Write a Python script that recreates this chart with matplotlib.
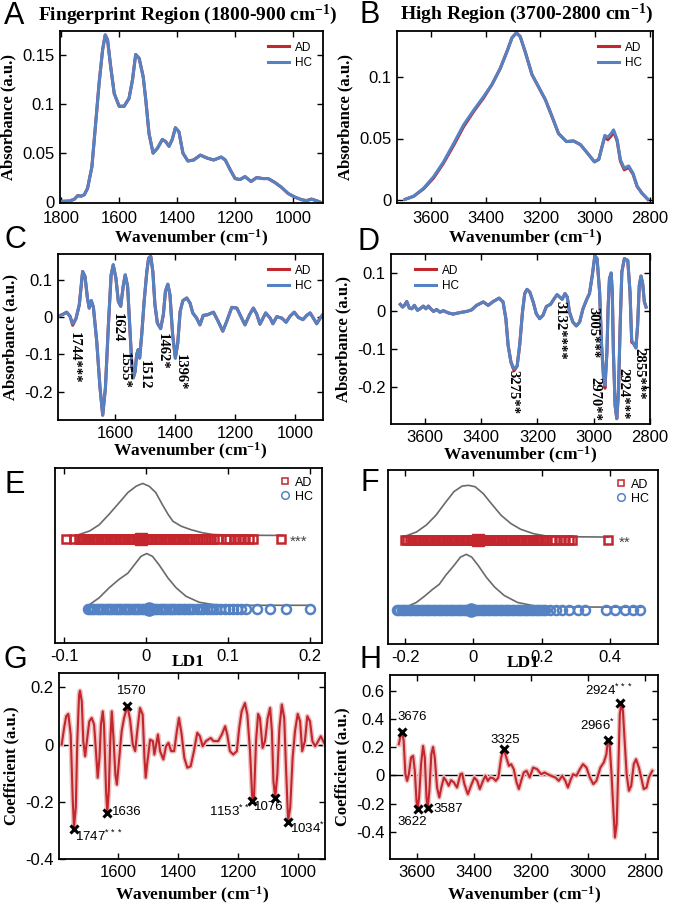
import numpy as np
import matplotlib
matplotlib.use("Agg")
import matplotlib.pyplot as plt
from matplotlib.lines import Line2D

plt.rcParams['font.family'] = ['Liberation Sans', 'DejaVu Sans']
plt.rcParams['axes.unicode_minus'] = False
plt.rcParams['mathtext.default'] = 'regular'
SERIF = ['Liberation Serif', 'DejaVu Serif']

RED = '#c3262d'
BLUE = '#5582c2'
PINK = '#ecc4c4'
GREY = '#6a6a6a'

# ---------------- A: fingerprint absorbance ----------------
wn_a = [1800, 1771, 1754, 1743, 1731, 1720, 1709, 1694, 1680, 1669, 1657, 1648, 1640,
        1629, 1617, 1600, 1583, 1566, 1554, 1543, 1531, 1517, 1508, 1497, 1483, 1468,
        1451, 1440, 1428, 1417, 1406, 1394, 1380, 1363, 1343, 1320, 1297, 1274, 1248,
        1234, 1217, 1200, 1183, 1166, 1145, 1126, 1105, 1086, 1063, 1040, 1017, 994,
        971, 954, 937, 920, 908]
hc_a = [0.0007, 0.001, 0.003, 0.0065, 0.006, 0.0075, 0.014, 0.036, 0.084, 0.122, 0.156,
        0.171, 0.166, 0.138, 0.111, 0.098, 0.098, 0.106, 0.125, 0.151, 0.147, 0.128,
        0.104, 0.070, 0.050, 0.055, 0.064, 0.062, 0.057, 0.064, 0.076, 0.072, 0.050,
        0.042, 0.043, 0.048, 0.045, 0.043, 0.046, 0.043, 0.033, 0.024, 0.023, 0.026,
        0.021, 0.025, 0.024, 0.024, 0.020, 0.015, 0.0087, 0.005, 0.0024, 0.0014, 0.003,
        0.0014, 0.0]
ad_a = list(hc_a)

# ---------------- B: high region absorbance ----------------
wn_b = [3694, 3663, 3627, 3590, 3554, 3517, 3481, 3444, 3408, 3377, 3347, 3322, 3304,
        3288, 3274, 3255, 3231, 3207, 3182, 3158, 3134, 3105, 3079, 3054, 3028, 3003,
        2987, 2975, 2965, 2954, 2942, 2933, 2920, 2908, 2894, 2878, 2862, 2847, 2829,
        2808]
hc_b = [0.0005, 0.003, 0.0095, 0.019, 0.031, 0.046, 0.061, 0.073, 0.084, 0.094, 0.107,
        0.121, 0.132, 0.136, 0.133, 0.120, 0.102, 0.092, 0.0815, 0.068, 0.054, 0.0475,
        0.048, 0.045, 0.038, 0.031, 0.033, 0.0435, 0.0525, 0.051, 0.054, 0.057, 0.049,
        0.0326, 0.0258, 0.0277, 0.0217, 0.011, 0.0054, 0.0005]
ad_b = [0.0005, 0.003, 0.009, 0.018, 0.030, 0.0445, 0.0595, 0.072, 0.083, 0.094, 0.107,
        0.121, 0.132, 0.136, 0.133, 0.120, 0.102, 0.092, 0.0815, 0.068, 0.054, 0.0475,
        0.048, 0.045, 0.038, 0.031, 0.033, 0.0435, 0.0515, 0.049, 0.052, 0.0555, 0.048,
        0.0315, 0.0245, 0.0265, 0.021, 0.011, 0.0054, 0.0005]

# ---------------- C: fingerprint 2nd derivative ----------------
wn_c = [1789, 1772, 1761, 1750, 1741, 1730, 1719, 1708, 1700, 1692, 1686, 1679, 1672,
        1661, 1650, 1641, 1632, 1622, 1613, 1606, 1597, 1589, 1581, 1572, 1566, 1558,
        1550, 1544, 1539, 1533, 1528, 1523, 1518, 1511, 1503, 1494, 1488, 1481, 1474,
        1467, 1459, 1448, 1439, 1432, 1424, 1417, 1408, 1399, 1391, 1383, 1374, 1361,
        1350, 1341, 1328, 1317, 1306, 1292, 1272, 1256, 1241, 1228, 1211, 1194, 1181,
        1167, 1152, 1139, 1128, 1117, 1098, 1083, 1074, 1061, 1044, 1030, 1017, 1003,
        989, 974, 961, 950, 939, 928, 914, 908]
hc_c = [0.002, 0.008, 0.013, 0.002, -0.018, -0.004, 0.033, 0.122, 0.109, 0.051, 0.024,
        0.044, 0.026, -0.065, -0.19, -0.263, -0.19, -0.02, 0.113, 0.14, 0.104, 0.042,
        0.029, 0.087, 0.113, 0.082, -0.038, -0.128, -0.163, -0.146, -0.101, -0.0875,
        -0.11, -0.047, 0.042, 0.122, 0.158, 0.163, 0.122, 0.033, -0.016, -0.031, 0.006,
        0.069, 0.088, 0.06, -0.047, -0.11, -0.07, 0.015, 0.044, 0.051, 0.0375, 0.011,
        -0.003, -0.021, 0.0045, 0.006, 0.013, -0.012, -0.038, -0.012, 0.026, 0.024,
        0.002, -0.021, 0.006, 0.024, 0.008, -0.019, 0.011, -0.003, -0.018, 0.001,
        -0.003, -0.014, 0.002, 0.013, -0.001, -0.007, 0.0045, 0.011, -0.003, -0.018,
        0.0, 0.006]
ad_c = list(hc_c)
ad_c[4] = -0.022
c_labels = ['1744***', '1624', '1555*', '1512', '1462*', '1396*']
c_label_x = [1737, 1593, 1570, 1503, 1443, 1383]
c_label_y = [-0.04, 0.011, -0.094, -0.115, -0.043, -0.10]

# ---------------- D: high region 2nd derivative ----------------
wn_d = [3687, 3679, 3672, 3664, 3655, 3646, 3637, 3626, 3617, 3605, 3596, 3587, 3579,
        3569, 3558, 3546, 3534, 3516, 3499, 3475, 3451, 3434, 3416, 3392, 3375, 3357,
        3336, 3322, 3312, 3304, 3294, 3283, 3272, 3263, 3253, 3245, 3237, 3227, 3215,
        3204, 3192, 3180, 3168, 3153, 3139, 3130, 3121, 3112, 3102, 3094, 3086, 3074,
        3062, 3050, 3038, 3024, 3015, 3005, 2996, 2988, 2979, 2972, 2965, 2960, 2953,
        2949, 2944, 2938, 2934, 2930, 2924, 2918, 2912, 2906, 2900, 2891, 2879, 2871,
        2865, 2858, 2850, 2844, 2838, 2832, 2826, 2820, 2814]
hc_d = [0.0175, 0.0105, 0.015, 0.025, 0.008, 0.006, 0.015, 0.002, 0.006, 0.013, 0.006,
        0.013, 0.006, -0.001, 0.004, -0.003, 0.001, -0.005, -0.008, -0.004, -0.001,
        0.003, 0.015, 0.024, 0.015, 0.025, 0.034, 0.024, -0.02, -0.09, -0.134, -0.152,
        -0.145, -0.09, -0.003, 0.046, 0.057, 0.05, 0.024, -0.007, -0.02, -0.011, 0.012,
        0.018, 0.034, 0.043, 0.037, 0.031, 0.046, 0.037, -0.003, -0.029, -0.039,
        -0.029, 0.006, 0.032, 0.046, 0.094, 0.145, 0.138, 0.05, -0.09, -0.175, -0.195,
        -0.108, 0.006, 0.085, 0.1, 0.05, -0.108, -0.248, -0.283, -0.213, -0.038, 0.103,
        0.138, 0.133, 0.05, -0.077, -0.086, -0.097, -0.038, 0.068, 0.092, 0.072, 0.024,
        0.0105]
ad_d = list(hc_d)
ad_d[31] = -0.157
ad_d[63] = -0.203
ad_d[78] = -0.082
d_labels = ['3275**', '3132****', '3005***', '2970**', '2924***', '2855***']
d_label_x = [3288, 3119, 3002, 2996, 2896, 2839]
d_label_y = [-0.155, 0.026, 0.01, -0.174, -0.15, -0.097]

# ---------------- E / F: LD1 scores ----------------
e_ad = [-0.098, -0.088, -0.082, -0.079, -0.077, -0.074, -0.071, -0.069, -0.066, -0.063,
        -0.061, -0.058, -0.055, -0.052, -0.050, -0.047, -0.044, -0.041, -0.039, -0.036,
        -0.033, -0.030, -0.028, -0.025, -0.022, -0.019, -0.017, -0.014, -0.011, -0.008,
        -0.006, -0.003, 0.000, 0.003, 0.005, 0.008, 0.011, 0.014, 0.016, 0.019, 0.022,
        0.025, 0.027, 0.030, 0.033, 0.036, 0.038, 0.041, 0.044, 0.047, 0.050, 0.053,
        0.056, 0.060, 0.064, 0.068, 0.072, 0.076, 0.080, 0.083, 0.088, 0.098, 0.102,
        0.108, 0.114, 0.120, 0.126, 0.131, 0.165]
e_hc = [-0.071, -0.068, -0.066, -0.063, -0.060, -0.057, -0.055, -0.052, -0.049, -0.046,
        -0.044, -0.041, -0.038, -0.035, -0.033, -0.030, -0.027, -0.024, -0.022, -0.019,
        -0.016, -0.013, -0.011, -0.008, -0.005, -0.002, 0.000, 0.003, 0.006, 0.009,
        0.011, 0.014, 0.017, 0.020, 0.022, 0.025, 0.028, 0.031, 0.033, 0.036, 0.039,
        0.042, 0.045, 0.048, 0.051, 0.054, 0.058, 0.062, 0.066, 0.070, 0.074, 0.078,
        0.082, 0.086, 0.090, 0.097, 0.102, 0.106, 0.111, 0.116, 0.122, 0.136, 0.152,
        0.171, 0.200]
e_ad_mean, e_hc_mean = -0.006, 0.004
e_ad_kde_x = [-0.082, -0.069, -0.057, -0.045, -0.033, -0.022, -0.012, -0.004, 0.004,
              0.012, 0.020, 0.027, 0.033, 0.043, 0.055, 0.069, 0.082, 0.106, 0.167]
e_ad_kde_y = [0.06, 0.11, 0.20, 0.35, 0.51, 0.66, 0.75, 0.79, 0.75, 0.66, 0.49, 0.35,
              0.25, 0.18, 0.13, 0.086, 0.062, 0.052, 0.048]
e_hc_kde_x = [-0.069, -0.057, -0.045, -0.033, -0.022, -0.014, -0.006, 0.001, 0.008,
              0.016, 0.027, 0.037, 0.049, 0.065, 0.082, 0.106, 0.200]
e_hc_kde_y = [0.06, 0.16, 0.30, 0.42, 0.51, 0.63, 0.75, 0.79, 0.75, 0.63, 0.44, 0.30,
              0.18, 0.095, 0.062, 0.052, 0.052]

f_ad = [-0.200, -0.193, -0.186, -0.179, -0.172, -0.165, -0.158, -0.151, -0.144, -0.137,
        -0.130, -0.123, -0.116, -0.109, -0.102, -0.095, -0.088, -0.081, -0.074, -0.067,
        -0.060, -0.053, -0.046, -0.039, -0.032, -0.025, -0.018, -0.011, -0.004, 0.003,
        0.010, 0.017, 0.024, 0.031, 0.038, 0.045, 0.052, 0.059, 0.066, 0.073, 0.080,
        0.087, 0.094, 0.101, 0.108, 0.115, 0.122, 0.129, 0.136, 0.143, 0.150, 0.157,
        0.164, 0.171, 0.178, 0.185, 0.192, 0.199, 0.206, 0.213, 0.226, 0.240, 0.254,
        0.267, 0.281, 0.289, 0.395]
f_hc = [-0.224, -0.217, -0.210, -0.203, -0.196, -0.189, -0.182, -0.175, -0.168, -0.161,
        -0.154, -0.147, -0.140, -0.133, -0.126, -0.119, -0.112, -0.105, -0.098, -0.091,
        -0.084, -0.077, -0.070, -0.063, -0.056, -0.049, -0.042, -0.035, -0.028, -0.021,
        -0.014, -0.007, 0.000, 0.007, 0.014, 0.021, 0.028, 0.035, 0.042, 0.049, 0.056,
        0.063, 0.070, 0.077, 0.084, 0.091, 0.098, 0.105, 0.112, 0.119, 0.126, 0.133,
        0.140, 0.147, 0.154, 0.161, 0.168, 0.175, 0.182, 0.189, 0.196, 0.203, 0.210,
        0.224, 0.241, 0.260, 0.281, 0.305, 0.327, 0.388, 0.414, 0.443, 0.467, 0.486]
f_ad_mean, f_hc_mean = 0.012, -0.007
f_ad_kde_x = [-0.200, -0.167, -0.138, -0.110, -0.081, -0.057, -0.033, -0.014, 0.005,
              0.029, 0.052, 0.081, 0.110, 0.138, 0.176, 0.214, 0.271, 0.395]
f_ad_kde_y = [0.06, 0.12, 0.22, 0.36, 0.55, 0.70, 0.78, 0.79, 0.77, 0.67, 0.53, 0.36,
              0.24, 0.16, 0.096, 0.0625, 0.053, 0.048]
f_hc_kde_x = [-0.214, -0.190, -0.167, -0.143, -0.119, -0.100, -0.081, -0.057, -0.038,
              -0.021, -0.005, 0.014, 0.038, 0.062, 0.090, 0.129, 0.176, 0.214, 0.490]
f_hc_kde_y = [0.04, 0.06, 0.11, 0.20, 0.30, 0.37, 0.50, 0.64, 0.76, 0.80, 0.76, 0.64,
              0.47, 0.33, 0.21, 0.11, 0.063, 0.048, 0.04]

# ---------------- G: LDA coefficients, fingerprint ----------------
wn_g = [1788, 1780, 1773, 1766, 1758, 1751, 1747, 1741, 1736, 1730, 1727, 1721, 1716,
        1710, 1704, 1696, 1688, 1680, 1673, 1668, 1662, 1657, 1651, 1647, 1640, 1636,
        1631, 1626, 1621, 1616, 1609, 1604, 1597, 1588, 1580, 1569, 1560, 1551, 1543,
        1536, 1527, 1518, 1512, 1508, 1502, 1493, 1484, 1479, 1473, 1467, 1460, 1449,
        1440, 1432, 1423, 1413, 1404, 1397, 1388, 1379, 1369, 1358, 1347, 1336, 1327,
        1318, 1307, 1291, 1282, 1266, 1254, 1243, 1236, 1227, 1216, 1204, 1196, 1188,
        1177, 1169, 1160, 1152, 1147, 1140, 1133, 1127, 1118, 1110, 1101, 1093, 1087,
        1082, 1076, 1069, 1062, 1054, 1046, 1040, 1033, 1026, 1018, 1010, 1001, 993,
        986, 977, 969, 960, 952, 943, 936, 924, 916, 910]
coef_g = [0.0, 0.058, 0.099, 0.107, 0.035, -0.198, -0.29, -0.22, 0.012, 0.174, 0.188,
          0.151, 0.012, -0.041, 0.012, 0.081, 0.093, 0.07, -0.035, -0.116, -0.047, 0.07,
          0.116, 0.07, -0.163, -0.238, -0.163, 0.012, 0.116, 0.035, -0.105, -0.14,
          -0.058, 0.047, 0.093, 0.134, 0.087, 0.0, -0.023, 0.047, 0.128, 0.105, -0.047,
          -0.116, -0.058, 0.017, 0.012, -0.035, 0.0, 0.035, -0.023, -0.052, -0.006,
          0.006, -0.023, -0.023, 0.047, 0.093, 0.035, -0.047, -0.081, -0.076, -0.023,
          0.041, 0.029, -0.006, 0.012, 0.023, 0.012, 0.012, 0.035, 0.064, 0.035, -0.023,
          -0.035, -0.023, 0.058, 0.116, 0.145, 0.105, -0.023, -0.198, -0.192, 0.012,
          0.107, 0.093, -0.012, 0.012, 0.093, 0.128, 0.047, -0.128, -0.186, -0.105,
          0.058, 0.14, 0.093, -0.081, -0.267, -0.221, -0.047, 0.047, 0.107, 0.081,
          -0.023, 0.012, 0.099, 0.081, 0.012, -0.006, 0.006, 0.029, 0.012, 0.0]
g_mark_x = [1747, 1636, 1569, 1152, 1076, 1034]
g_mark_y = [-0.295, -0.24, 0.134, -0.198, -0.188, -0.27]
g_labels = ['1747$^{***}$', '1636', '1570', '1153$^{**}$', '1076', '1034$^{*}$']
g_label_x = [1743, 1619, 1554, 1162, 1147, 1027]
g_label_y = [-0.32, -0.235, 0.188, -0.235, -0.219, -0.293]
g_label_ha = ['left', 'left', 'center', 'right', 'left', 'left']

# ---------------- H: LDA coefficients, high region ----------------
wn_h = [3664, 3658, 3653, 3647, 3641, 3635, 3629, 3621, 3614, 3608, 3602, 3598, 3593,
        3586, 3579, 3573, 3567, 3563, 3557, 3550, 3544, 3538, 3530, 3522, 3515, 3506,
        3498, 3489, 3481, 3471, 3460, 3448, 3442, 3434, 3422, 3411, 3399, 3389, 3380,
        3368, 3360, 3352, 3343, 3333, 3324, 3315, 3305, 3296, 3287, 3278, 3270, 3261,
        3251, 3243, 3235, 3226, 3216, 3205, 3193, 3179, 3165, 3153, 3142, 3130, 3115,
        3103, 3091, 3080, 3071, 3062, 3053, 3041, 3029, 3018, 3006, 2994, 2982, 2971,
        2957, 2945, 2936, 2931, 2925, 2918, 2912, 2906, 2900, 2894, 2889, 2884, 2878,
        2872, 2865, 2857, 2849, 2840, 2832, 2822, 2814, 2805, 2795, 2787, 2775]
coef_h = [0.221, 0.28, 0.31, 0.245, 0.009, -0.038, 0.009, 0.127, 0.139, 0.033, -0.179,
          -0.238, -0.155, 0.08, 0.209, 0.127, -0.155, -0.238, -0.108, 0.15, 0.202,
          0.127, -0.085, -0.155, -0.085, -0.014, -0.038, -0.073, -0.033, -0.049, -0.085,
          0.009, 0.014, -0.061, -0.132, -0.073, -0.014, -0.038, -0.096, -0.033, -0.002,
          -0.038, -0.014, -0.019, -0.038, -0.014, 0.127, 0.186, 0.127, 0.068, 0.08,
          0.045, -0.049, -0.096, -0.038, 0.021, 0.033, -0.014, 0.056, 0.045, 0.009,
          0.021, 0.009, -0.002, -0.014, -0.038, -0.002, -0.038, -0.085, -0.033, 0.009,
          -0.002, 0.045, 0.08, 0.056, -0.014, -0.061, -0.038, 0.056, 0.092, 0.15, 0.245,
          0.233, 0.009, -0.226, -0.438, -0.344, 0.056, 0.433, 0.504, 0.456, 0.245, 0.009,
          -0.108, -0.073, 0.08, 0.115, 0.056, -0.014, -0.096, -0.085, -0.014, 0.033]
h_mark_x = [3653, 3598, 3563, 3296, 2931, 2887]
h_mark_y = [0.31, -0.238, -0.23, 0.186, 0.25, 0.51]
h_labels = ['3676', '3622', '3587', '3325', '2966$^{*}$', '2924$^{***}$']
h_label_x = [3618, 3618, 3542, 3290, 2968, 2927]
h_label_y = [0.41, -0.33, -0.238, 0.25, 0.355, 0.6]
h_label_ha = ['center', 'center', 'left', 'center', 'center', 'center']


W, H = 677, 906
fig = plt.figure(figsize=(W / 100, H / 100), dpi=100)


def px_axes(left, top, right, bottom):
    return fig.add_axes([left / W, 1 - bottom / H, (right - left) / W, (bottom - top) / H])


def style(ax, yticks=True, xpad=4):
    ax.tick_params(direction='in', top=True, right=yticks, labelsize=12,
                   length=4, width=1)
    ax.tick_params(axis='x', pad=xpad)
    ax.tick_params(axis='y', pad=4)
    for s in ax.spines.values():
        s.set_linewidth(1.3)


def labels(ax, xl='Wavenumber (cm$^{-1}$)', yl='Absorbance (a.u.)', pad=4):
    ax.set_xlabel(xl, family=SERIF, weight='bold', fontsize=12.5, labelpad=pad)
    if yl:
        ax.set_ylabel(yl, family=SERIF, weight='bold', fontsize=12, labelpad=4)


def spectra(ax, wn, ad, hc, loc, anchor):
    ax.plot(wn, ad, color=RED, lw=2.2, label='AD')
    ax.plot(wn, hc, color=BLUE, lw=2.2, label='HC')
    ax.legend(loc=loc, bbox_to_anchor=anchor, frameon=False, fontsize=8.5,
              handlelength=1.8, handletextpad=0.5, labelspacing=0.3)


# A
ax = px_axes(60, 31, 323, 203)
spectra(ax, wn_a, ad_a, hc_a, 'upper right', (1.0, 1.0))
ax.set_xlim(1804, 897)
ax.set_ylim(-0.001, 0.175)
ax.set_xticks([1800, 1600, 1400, 1200, 1000])
ax.set_xticklabels(['1800', '1600', '1400', '1200', '1000'])
ax.set_yticks([0, 0.05, 0.1, 0.15])
ax.set_yticklabels(['0', '0.05', '0.1', '0.15'])
style(ax, xpad=6)
labels(ax, pad=1)

# B
ax = px_axes(397, 31, 653, 203)
spectra(ax, wn_b, ad_b, hc_b, 'upper right', (1.0, 1.0))
ax.set_xlim(3724, 2789)
ax.set_ylim(-0.0025, 0.1375)
ax.set_xticks([3600, 3400, 3200, 3000, 2800])
ax.set_xticklabels(['3600', '3400', '3200', '3000', '2800'])
ax.set_yticks([0, 0.05, 0.1])
ax.set_yticklabels(['0', '0.05', '0.1'])
style(ax, xpad=6)
labels(ax, pad=1)

# C
ax = px_axes(58, 254, 323, 420)
spectra(ax, wn_c, ad_c, hc_c, 'upper right', (1.0, 1.0))
ax.set_xlim(1790, 907)
ax.set_ylim(-0.276, 0.169)
ax.set_xticks([1600, 1400, 1200, 1000])
ax.set_xticklabels(['1600', '1400', '1200', '1000'])
ax.set_yticks([-0.2, -0.1, 0, 0.1])
ax.set_yticklabels(['-0.2', '-0.1', '0', '0.1'])
for t, x, y in zip(c_labels, c_label_x, c_label_y):
    ax.text(x, y, t, rotation=-90, ha='center', va='top', family=SERIF,
            weight='bold', fontsize=10.5)
style(ax)
labels(ax, pad=0.5)

# D
ax = px_axes(391, 254, 650, 424)
spectra(ax, wn_d, ad_d, hc_d, 'upper left', (0.05, 1.0))
ax.set_xlim(3720, 2800)
ax.set_ylim(-0.297, 0.15)
ax.set_xticks([3600, 3400, 3200, 3000, 2800])
ax.set_xticklabels(['3600', '3400', '3200', '3000', '2800'])
ax.set_yticks([-0.2, -0.1, 0, 0.1])
ax.set_yticklabels(['-0.2', '-0.1', '0', '0.1'])
for t, x, y in zip(d_labels, d_label_x, d_label_y):
    ax.text(x, y, t, rotation=-90, ha='center', va='top', family=SERIF,
            weight='bold', fontsize=10.5)
style(ax)
labels(ax, pad=0.5)


def lda(ax, ad, hc, ad_mean, hc_mean, akx, aky, hkx, hky, star, star_x):
    ax.plot(akx, 2 + np.array(aky), color=GREY, lw=1.2)
    ax.plot(hkx, 1 + np.array(hky), color=GREY, lw=1.2)
    ax.plot(ad, [2] * len(ad), ls='none', marker='s', mfc='none', mec=RED,
            ms=5.5, mew=1.8)
    ax.plot(hc, [1] * len(hc), ls='none', marker='o', mfc='none', mec=BLUE,
            ms=6.5, mew=1.8)
    ax.plot([ad_mean], [2], ls='none', marker='s', color=RED, ms=8.5)
    ax.plot([hc_mean], [1], ls='none', marker='o', color=BLUE, ms=9.5)
    ax.text(star_x, 1.96, star, color='#444444', fontsize=11, ha='left', va='center')
    hs = [Line2D([], [], ls='none', marker='s', mfc='none', mec=RED, ms=5, mew=1.1),
          Line2D([], [], ls='none', marker='o', mfc='none', mec=BLUE, ms=5.5, mew=1.1)]
    ax.legend(hs, ['AD', 'HC'], loc='upper right', frameon=False, fontsize=9,
              handlelength=1.0, handletextpad=0.3, labelspacing=0.15,
              borderaxespad=0.3)
    ax.set_ylim(0.514, 3.01)
    ax.set_yticks([])
    style(ax, yticks=False)
    labels(ax, xl='LD1', yl=None, pad=-7)


# E
ax = px_axes(55, 468, 322, 643)
lda(ax, e_ad, e_hc, e_ad_mean, e_hc_mean, e_ad_kde_x, e_ad_kde_y,
    e_hc_kde_x, e_hc_kde_y, '***', 0.176)
ax.set_xlim(-0.111, 0.215)
ax.set_xticks([-0.1, 0, 0.1, 0.2])
ax.set_xticklabels(['-0.1', '0', '0.1', '0.2'])

# F
ax = px_axes(388, 470, 658, 644)
lda(ax, f_ad, f_hc, f_ad_mean, f_hc_mean, f_ad_kde_x, f_ad_kde_y,
    f_hc_kde_x, f_hc_kde_y, '**', 0.425)
ax.set_xlim(-0.25, 0.54)
ax.set_xticks([-0.2, 0, 0.2, 0.4])
ax.set_xticklabels(['-0.2', '0', '0.2', '0.4'])


def coef(ax, wn, c, mx, my, labs, lx, ly, lha):
    ax.axhline(0, color='black', lw=1.0)
    ax.plot(wn, c, color=PINK, lw=3.6, solid_joinstyle='round')
    ax.plot(wn, c, color=RED, lw=1.5)
    ax.plot(mx, my, ls='none', marker='x', color='black', ms=6, mew=2.2)
    for t, x, y, h in zip(labs, lx, ly, lha):
        ax.text(x, y, t, ha=h, va='center', fontsize=9.5)
    style(ax)
    labels(ax, yl='Coefficient (a.u.)', pad=3.5)


# G
ax = px_axes(59, 673, 325, 859)
coef(ax, wn_g, coef_g, g_mark_x, g_mark_y, g_labels, g_label_x, g_label_y, g_label_ha)
ax.set_xlim(1797, 910)
ax.set_ylim(-0.4, 0.25)
ax.set_xticks([1600, 1400, 1200, 1000])
ax.set_xticklabels(['1600', '1400', '1200', '1000'])
ax.set_yticks([-0.4, -0.2, 0, 0.2])
ax.set_yticklabels(['-0.4', '-0.2', '0', '0.2'])

# H
ax = px_axes(390, 675, 658, 859)
coef(ax, wn_h, coef_h, h_mark_x, h_mark_y, h_labels, h_label_x, h_label_y, h_label_ha)
ax.set_xlim(3695, 2755)
ax.set_ylim(-0.59, 0.71)
ax.set_xticks([3600, 3400, 3200, 3000, 2800])
ax.set_xticklabels(['3600', '3400', '3200', '3000', '2800'])
ax.set_yticks([-0.4, -0.2, 0, 0.2, 0.4, 0.6])
ax.set_yticklabels(['-0.4', '-0.2', '0', '0.2', '0.4', '0.6'])

# titles and panel letters
fig.text(188 / W, 1 - 15 / H, 'Fingerprint Region (1800-900 cm$^{-1}$)', ha='center',
         va='center', family=SERIF, weight='bold', fontsize=14)
fig.text(527 / W, 1 - 14 / H, 'High Region (3700-2800 cm$^{-1}$)', ha='center',
         va='center', family=SERIF, weight='bold', fontsize=14)
for letter, x, y in [('A', 14, 16), ('B', 370, 15), ('C', 15, 240), ('D', 368, 242),
                     ('E', 15, 485), ('F', 370, 483), ('G', 15, 660), ('H', 370, 660)]:
    fig.text(x / W, 1 - y / H, letter, ha='center', va='center', fontsize=22)

fig.savefig('out.png', dpi=100)
